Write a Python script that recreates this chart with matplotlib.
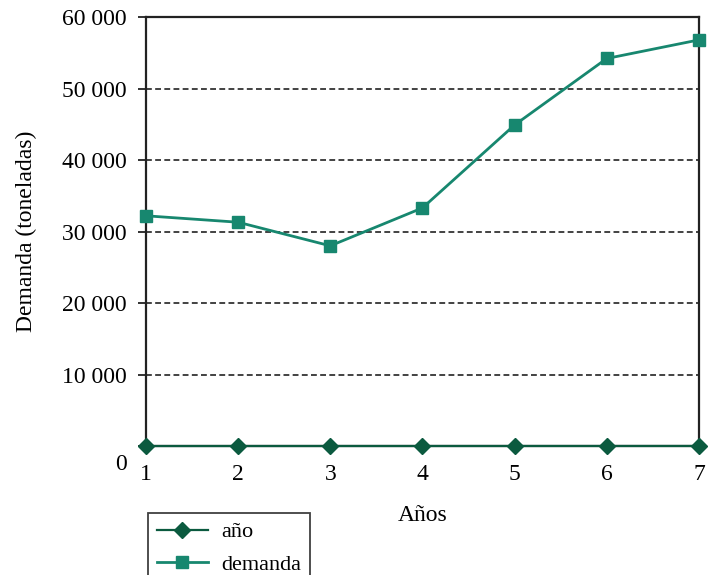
import matplotlib
matplotlib.use("Agg")
import matplotlib.pyplot as plt
import matplotlib.transforms as mtransforms

# Data
years = [1, 2, 3, 4, 5, 6, 7]
anio = [1, 2, 3, 4, 5, 6, 7]
demanda = [32200, 31300, 28000, 33300, 44900, 54200, 56800]
y_ticks = [0, 10000, 20000, 30000, 40000, 50000, 60000]
y_labels = ["0", "10 000", "20 000", "30 000", "40 000", "50 000", "60 000"]

plt.rcParams["font.family"] = ["Liberation Serif", "DejaVu Serif"]

fig = plt.figure(figsize=(7.11, 5.75), dpi=100)
ax = fig.add_axes([0.2053, 0.2243, 0.7777, 0.7461])

c_anio = "#0b5a3f"
c_dem = "#17876f"

ax.plot(years, anio, color=c_anio, lw=1.6, marker="D", ms=8.5,
        label="año", clip_on=False, zorder=4)
ax.plot(years, demanda, color=c_dem, lw=2.0, marker="s", ms=9,
        label="demanda", clip_on=False, zorder=5)

ax.set_xlim(1, 7)
ax.set_ylim(0, 60000)
ax.set_xticks(years)
ax.set_yticks(y_ticks)
ax.set_yticklabels(y_labels)

for y in y_ticks[1:-1]:
    ax.axhline(y, color="#222222", lw=1.2, ls=(0, (3.5, 2)), zorder=1)

for s in ax.spines.values():
    s.set_color("#222222")
    s.set_linewidth(1.6)

ax.tick_params(axis="y", direction="out", length=6, width=1.3,
               labelsize=17, pad=8, color="#222222")
ax.tick_params(axis="x", length=0, labelsize=17, pad=13)

# shift the "0" label down below the baseline
zero = ax.get_yticklabels()[0]
zero.set_transform(zero.get_transform() +
                   mtransforms.ScaledTranslation(0, -0.16, fig.dpi_scale_trans))

ax.set_ylabel("Demanda (toneladas)", fontsize=17, labelpad=18)
ax.set_xlabel("Años", fontsize=17, labelpad=14)

leg = fig.legend(loc="upper left", bbox_to_anchor=(148 / 711, 1 - 513 / 575),
                 fontsize=16, frameon=True, fancybox=False,
                 edgecolor="#111111", handlelength=2.3, handletextpad=0.6,
                 borderpad=0.4, labelspacing=0.55, borderaxespad=0)
leg.get_frame().set_linewidth(1.3)

fig.savefig("out.png", dpi=100)
